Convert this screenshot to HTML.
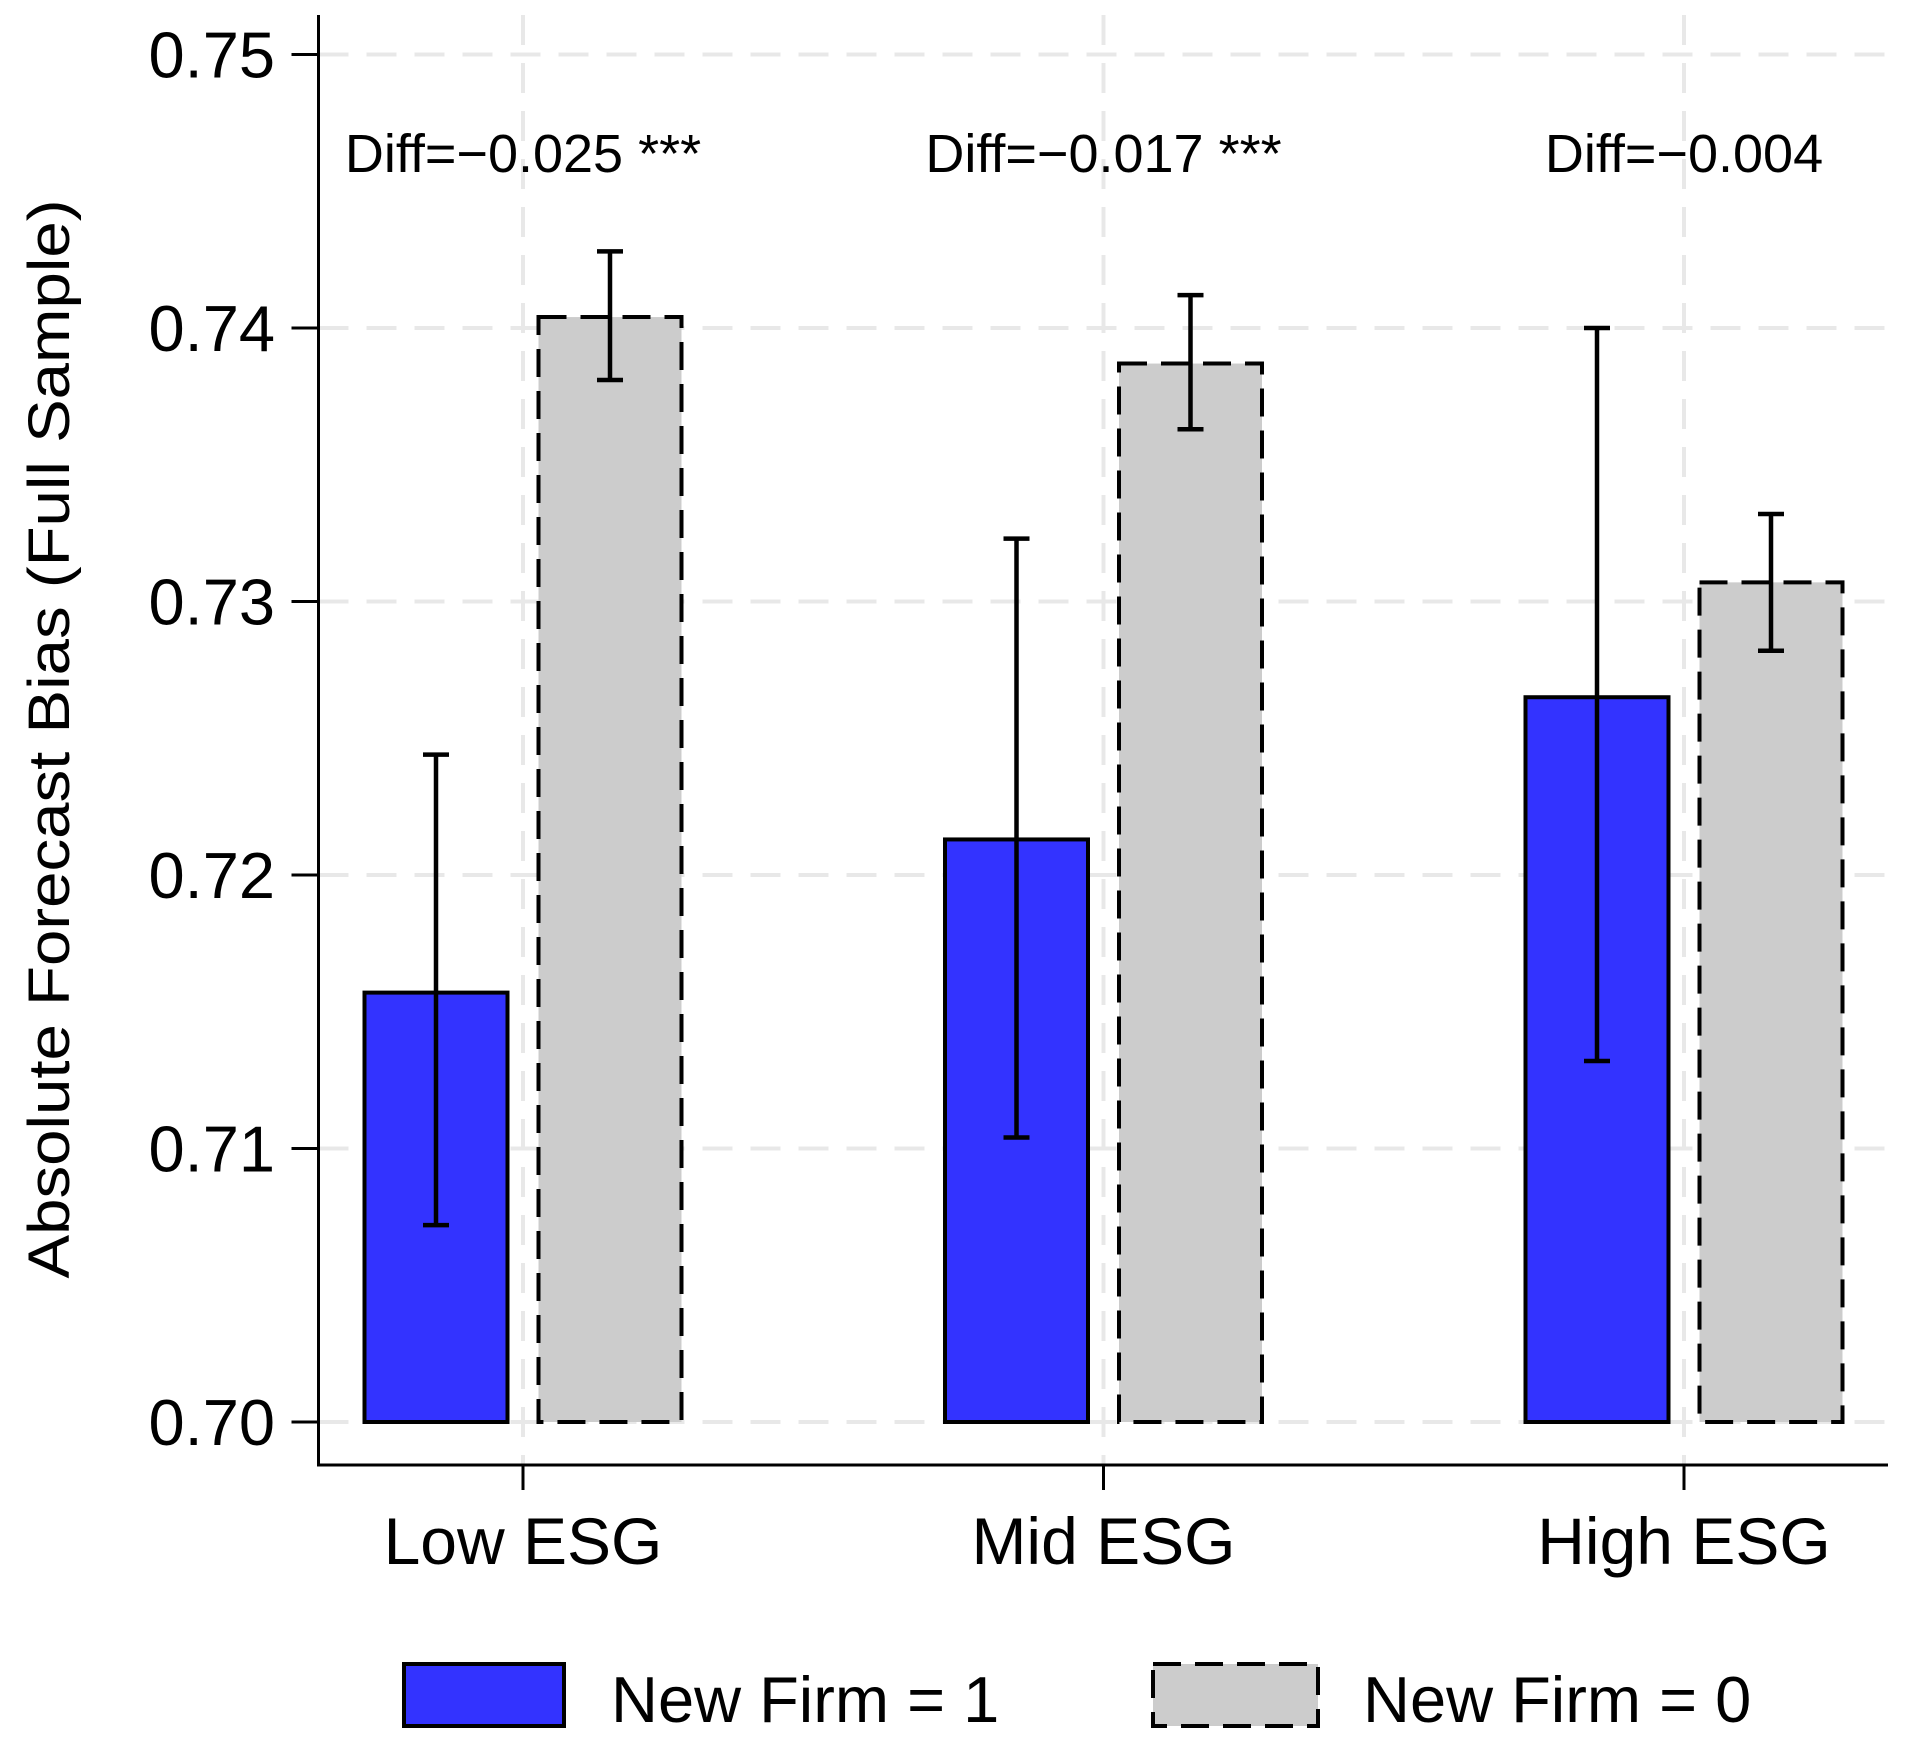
<!DOCTYPE html>
<html><head><meta charset="utf-8"><style>
html,body{margin:0;padding:0;background:#fff;}
svg{display:block;font-family:"Liberation Sans",Arial,sans-serif;}
</style></head><body>
<svg id="chart" width="1906" height="1752" viewBox="0 0 1906 1752" xmlns="http://www.w3.org/2000/svg">
<rect width="1906" height="1752" fill="#fff"/>
<g id="grid"></g>
<g id="bars"></g>
<g id="axes"></g>
<text transform="translate(69,739) rotate(-90)" text-anchor="middle" font-size="58" textLength="1079" lengthAdjust="spacingAndGlyphs">Absolute Forecast Bias (Full Sample)</text>
<g>
<rect x="404" y="1664" width="160" height="62" fill="#3333ff" stroke="#000" stroke-width="4"/>
<text x="611" y="1722" font-size="65">New Firm = 1</text>
<rect x="1153" y="1664" width="165" height="62" fill="#cccccc" stroke="#000" stroke-width="4" stroke-dasharray="28,14"/>
<text x="1363" y="1722" font-size="65">New Firm = 0</text>
</g>
</svg>
<script>
const categories = ["Low ESG", "Mid ESG", "High ESG"];
const newFirm1 = [0.7157, 0.7213, 0.7265];
const newFirm1Lo = [0.7072, 0.7104, 0.7132];
const newFirm1Hi = [0.7244, 0.7323, 0.7400];
const newFirm0 = [0.7404, 0.7387, 0.7307];
const newFirm0Lo = [0.7381, 0.7363, 0.7282];
const newFirm0Hi = [0.7428, 0.7412, 0.7332];
const diffLabels = ["Diff=\u22120.025 ***", "Diff=\u22120.017 ***", "Diff=\u22120.004"];
const yTicks = [0.70, 0.71, 0.72, 0.73, 0.74, 0.75];
const yTickLabels = ["0.70", "0.71", "0.72", "0.73", "0.74", "0.75"];

const NS = "http://www.w3.org/2000/svg";
const plotLeft = 318.5, plotRight = 1888, plotTop = 15, plotBottom = 1465;
function yScale(v){ return 1422 - (v - 0.70) / 0.01 * 273.5; }
function xScale(i){ return 523 + i * 580.5; }
function mk(tag, attrs, parent){
  const el = document.createElementNS(NS, tag);
  for (const k in attrs) el.setAttribute(k, attrs[k]);
  parent.appendChild(el);
  return el;
}
const gridG = document.getElementById('grid');
const barsG = document.getElementById('bars');
const axesG = document.getElementById('axes');

yTicks.forEach((t, i) => {
  const g = mk('line', {x1: plotLeft, x2: plotRight, y1: yScale(t), y2: yScale(t), stroke: '#e8e8e8', 'stroke-width': 4, 'stroke-dasharray': '30,18'}, gridG);
  
  
  const tk = mk('line', {x1: plotLeft - 27, x2: plotLeft, y1: yScale(t), y2: yScale(t), stroke: '#000', 'stroke-width': 3}, axesG);
  
  
  const tl = mk('text', {x: 275, y: yScale(t) + 23, 'text-anchor': 'end', 'font-size': 65}, axesG);
  tl.textContent = yTickLabels[i];
  
  
});
categories.forEach((c, i) => {
  const g = mk('line', {x1: xScale(i), x2: xScale(i), y1: plotTop, y2: plotBottom, stroke: '#e8e8e8', 'stroke-width': 4, 'stroke-dasharray': '30,18'}, gridG);
  
  
  const tk = mk('line', {x1: xScale(i), x2: xScale(i), y1: plotBottom, y2: plotBottom + 25, stroke: '#000', 'stroke-width': 3}, axesG);
  
  
  const tl = mk('text', {x: xScale(i), y: 1564, 'text-anchor': 'middle', 'font-size': 66}, axesG);
  tl.textContent = c;
  
  
  const dl = mk('text', {x: xScale(i), y: 172, 'text-anchor': 'middle', 'font-size': 54}, axesG);
  dl.textContent = diffLabels[i];
  
  

  const w = 143;
  const specs = [
    {v: newFirm1[i], lo: newFirm1Lo[i], hi: newFirm1Hi[i], cx: xScale(i) - 87, fill: '#3333ff', dash: null, name: 'bar-new-firm-1'},
    {v: newFirm0[i], lo: newFirm0Lo[i], hi: newFirm0Hi[i], cx: xScale(i) + 87, fill: '#cccccc', dash: '28,14', name: 'bar-new-firm-0'}
  ];
  specs.forEach(s => {
    const r = mk('rect', {x: s.cx - w/2, y: yScale(s.v), width: w, height: yScale(0.70) - yScale(s.v), fill: s.fill, stroke: '#000', 'stroke-width': 4}, barsG);
    if (s.dash) r.setAttribute('stroke-dasharray', s.dash);
    
    
    const e = mk('path', {d: `M${s.cx},${yScale(s.lo)}V${yScale(s.hi)}M${s.cx-13},${yScale(s.lo)}H${s.cx+13}M${s.cx-13},${yScale(s.hi)}H${s.cx+13}`, stroke: '#000', 'stroke-width': 4.5, fill: 'none'}, barsG);
    
    
  });
});
const ya = mk('line', {x1: plotLeft, x2: plotLeft, y1: plotTop, y2: plotBottom + 1.5, stroke: '#000', 'stroke-width': 3}, axesG);


const xa = mk('line', {x1: plotLeft, x2: plotRight, y1: plotBottom, y2: plotBottom, stroke: '#000', 'stroke-width': 3}, axesG);


</script>
</body></html>
